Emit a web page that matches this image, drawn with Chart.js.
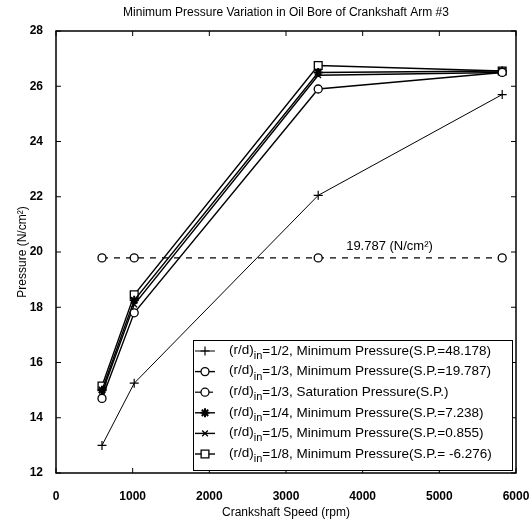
<!DOCTYPE html>
<html>
<head>
<meta charset="utf-8">
<title>Minimum Pressure Variation</title>
<script src="https://cdn.jsdelivr.net/npm/chart.js@4.4.0/dist/chart.umd.min.js"></script>
<style>
  html, body { margin: 0; padding: 0; background: #fff; }
  #wrap { width: 530px; height: 525px; }
</style>
</head>
<body>
<div id="wrap"><canvas id="pressureChart" width="530" height="525"></canvas></div>
<script>
    // values (rpm, N/cm2)
    const SPEEDS = [600, 1020, 3420, 5820];
    const P_HALF = [13.0, 15.25, 22.05, 25.7];
    const P_THIRD = [14.7, 17.8, 25.9, 26.5];
    const P_SAT = [19.787, 19.787, 19.787, 19.787];
    const P_QUARTER = [15.0, 18.25, 26.5, 26.55];
    const P_FIFTH = [14.9, 18.1, 26.4, 26.5];
    const P_EIGHTH = [15.15, 18.45, 26.75, 26.55];

    const X_TICKS = [0, 1000, 2000, 3000, 4000, 5000, 6000];
    const Y_TICKS = [12, 14, 16, 18, 20, 22, 24, 26, 28];

    const TITLE = "Minimum Pressure Variation in Oil Bore of Crankshaft Arm #3";
    const SAT_NOTE = "19.787 (N/cm\u00B2)";
    const LEGEND_TAILS = [
      "=1/2, Minimum Pressure(S.P.=48.178)",
      "=1/3, Minimum Pressure(S.P.=19.787)",
      "=1/3, Saturation Pressure(S.P.)",
      "=1/4, Minimum Pressure(S.P.=7.238)",
      "=1/5, Minimum Pressure(S.P.=0.855)",
      "=1/8, Minimum Pressure(S.P.= -6.276)"
    ];

    const FONT = '"Liberation Sans", Arial, sans-serif';

    function pts(values) {
      return SPEEDS.map((s, i) => ({ x: s, y: values[i] }));
    }

    function series(values, style, extra) {
      return Object.assign({
        data: pts(values),
        borderColor: '#000',
        backgroundColor: '#fff',
        pointBorderColor: '#000',
        pointBackgroundColor: '#fff',
        pointStyle: style,
        pointRadius: 4,
        pointBorderWidth: 1.3,
        borderWidth: 1.4,
        tension: 0,
        fill: false
      }, extra || {});
    }

    const datasets = [
      series(P_HALF, 'cross', { borderWidth: 1, pointBorderWidth: 1.2, pointRadius: 4.5 }),
      series(P_THIRD, 'circle', {}),
      series(P_SAT, 'circle', { borderWidth: 1.2, borderDash: [6, 6] }),
      series(P_QUARTER, 'star', { pointRadius: 4.5, pointBorderWidth: 2 }),
      series(P_FIFTH, 'crossRot', { pointRadius: 4 }),
      series(P_EIGHTH, 'rect', { pointRadius: 5.5 })
    ];

    function line(ctx, x1, y1, x2, y2) {
      ctx.beginPath();
      ctx.moveTo(x1, y1);
      ctx.lineTo(x2, y2);
      ctx.stroke();
    }

    const decorPlugin = {
      id: 'decor',
      afterDraw(chart) {
        const ctx = chart.ctx;
        const a = chart.chartArea;
        const xs = chart.scales.x;
        const ys = chart.scales.y;

        ctx.save();
        ctx.strokeStyle = '#000';
        ctx.fillStyle = '#000';

        // title
        ctx.font = '12px ' + FONT;
        ctx.textAlign = 'center';
        ctx.textBaseline = 'middle';
        ctx.fillText(TITLE, (a.left + a.right) / 2, 13);

        // inward ticks and frame
        ctx.lineWidth = 1;
        X_TICKS.forEach(v => {
          const px = xs.getPixelForValue(v);
          line(ctx, px, a.bottom, px, a.bottom - 5);
          line(ctx, px, a.top, px, a.top + 5);
        });
        Y_TICKS.forEach(v => {
          const py = ys.getPixelForValue(v);
          line(ctx, a.left, py, a.left + 5, py);
          line(ctx, a.right, py, a.right - 5, py);
        });
        ctx.lineWidth = 1.5;
        ctx.strokeRect(a.left, a.top, a.right - a.left, a.bottom - a.top);

        // saturation note
        ctx.font = '13px ' + FONT;
        ctx.fillText(SAT_NOTE, xs.getPixelForValue(4350), ys.getPixelForValue(20.2));

        // legend box
        const bx = 193, by = 340, bw = a.right - 4 - bx, bh = a.bottom - 3 - by;
        ctx.fillStyle = '#fff';
        ctx.fillRect(bx, by, bw, bh);
        ctx.lineWidth = 1;
        ctx.strokeRect(bx + 0.5, by + 0.5, bw, bh);

        datasets.forEach((ds, i) => {
          const ry = by + 11 + i * 20.6;
          ctx.strokeStyle = '#000';
          ctx.lineWidth = ds.borderWidth;
          ctx.setLineDash(ds.borderDash || []);
          line(ctx, 195, ry, 215, ry);
          ctx.setLineDash([]);
          ctx.fillStyle = '#fff';
          ctx.lineWidth = ds.pointBorderWidth;
          Chart.helpers.drawPoint(ctx, {
            pointStyle: ds.pointStyle,
            rotation: 0,
            radius: ds.pointRadius,
            borderWidth: ds.pointBorderWidth
          }, 205, ry);

          ctx.fillStyle = '#000';
          ctx.textAlign = 'left';
          ctx.textBaseline = 'middle';
          let tx = 229;
          ctx.font = '13.5px ' + FONT;
          ctx.fillText('(r/d)', tx, ry - 1);
          tx += ctx.measureText('(r/d)').width;
          ctx.font = '11px ' + FONT;
          ctx.fillText('in', tx, ry + 5);
          tx += ctx.measureText('in').width;
          ctx.font = '13.5px ' + FONT;
          ctx.fillText(LEGEND_TAILS[i], tx, ry);
        });

        ctx.restore();
      }
    };

    new Chart(document.getElementById('pressureChart').getContext('2d'), {
      type: 'line',
      data: { datasets: datasets },
      options: {
        responsive: false,
        animation: false,
        devicePixelRatio: 1,
        layout: { padding: { top: 31, right: 14, left: 0, bottom: 0 } },
        plugins: {
          legend: { display: false },
          tooltip: { enabled: false }
        },
        scales: {
          x: {
            type: 'linear',
            min: 0,
            max: 6000,
            grid: { display: false },
            border: { display: false },
            afterBuildTicks: s => { s.ticks = X_TICKS.map(v => ({ value: v })); },
            afterFit: s => { s.height = 52; s.paddingLeft = 0; s.paddingRight = 0; },
            ticks: {
              color: '#000',
              padding: 8,
              maxRotation: 0,
              callback: v => String(v),
              font: { family: FONT, size: 12, weight: 'bold' }
            },
            title: {
              display: true,
              text: 'Crankshaft Speed (rpm)',
              color: '#000',
              font: { family: FONT, size: 12 },
              padding: { top: 4, bottom: 5 }
            }
          },
          y: {
            type: 'linear',
            min: 12,
            max: 28,
            grid: { display: false },
            border: { display: false },
            afterBuildTicks: s => { s.ticks = Y_TICKS.map(v => ({ value: v })); },
            afterFit: s => { s.width = 56; s.paddingTop = 0; s.paddingBottom = 0; },
            ticks: {
              color: '#000',
              padding: 5,
              callback: v => String(v),
              font: { family: FONT, size: 12, weight: 'bold' }
            },
            title: {
              display: true,
              text: 'Pressure (N/cm\u00B2)',
              color: '#000',
              font: { family: FONT, size: 12 },
              padding: { top: 15, bottom: 4 }
            }
          }
        }
      },
      plugins: [decorPlugin]
    });
</script>
</body>
</html>
